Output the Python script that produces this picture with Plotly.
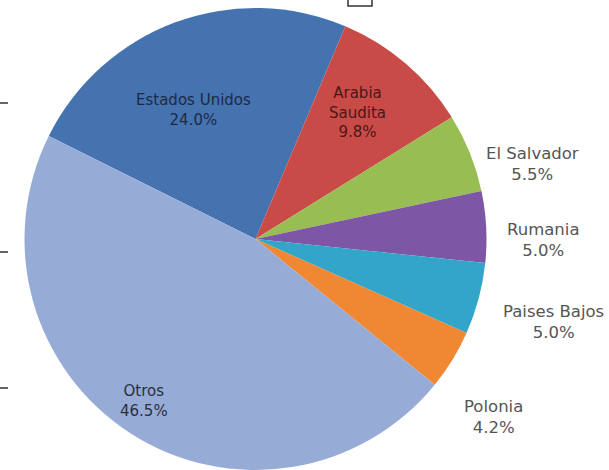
import plotly.graph_objects as go

W, H = 609, 470

# ---- data ----
countries = ["Estados Unidos", "Arabia Saudita", "El Salvador", "Rumania",
             "Paises Bajos", "Polonia", "Otros"]
shares = [24.0, 9.8, 5.5, 5.0, 5.0, 4.2, 46.5]
slice_colors = ["#4473b0", "#c84b47", "#98bd52", "#7d56a6",
                "#32a5c8", "#f08732", "#96abd6"]

# ---- label placement (pixel centres of the label blocks) ----
label_pos = {
    "Estados Unidos": (193, 110),
    "Arabia Saudita": (358, 112),
    "El Salvador": (532, 164),
    "Rumania": (543, 240),
    "Paises Bajos": (553, 322),
    "Polonia": (493, 417),
    "Otros": (144, 401),
}
inside = {"Estados Unidos": "#1e2a45", "Arabia Saudita": "#4a1816", "Otros": "#2a2f40"}


def px(x):
    return x / W


def py(y):
    return 1 - y / H


R = 231
CX = 255.5
fig = go.Figure(go.Pie(
    labels=countries,
    values=shares,
    sort=False,
    direction="clockwise",
    rotation=-63.5,
    marker=dict(colors=slice_colors, line=dict(width=0)),
    textinfo="none",
    hoverinfo="label+percent",
    showlegend=False,
    domain=dict(x=[px(CX - R), px(CX + R)], y=[0, 2 * R / H]),
))

annotations = []
for name, val in zip(countries, shares):
    text_name = name.replace("Arabia Saudita", "Arabia<br>Saudita")
    x, y = label_pos[name]
    col = inside.get(name, "#555555")
    annotations.append(dict(
        x=px(x), y=py(y), xref="paper", yref="paper",
        xanchor="center", yanchor="middle",
        text=f"{text_name}<br>{val:.1f}%",
        showarrow=False, align="center",
        font=dict(family="DejaVu Sans", size=15 if name in inside else 16.5, color=col),
    ))

shapes = []
for ty in (103, 252, 388):
    shapes.append(dict(type="line", xref="paper", yref="paper",
                       x0=0, x1=px(8), y0=py(ty), y1=py(ty),
                       line=dict(color="#333333", width=1.5)))
shapes.append(dict(type="rect", xref="paper", yref="paper",
                   x0=px(348), x1=px(372), y0=py(6), y1=py(-3),
                   line=dict(color="#333333", width=1.5)))

fig.update_layout(
    width=W, height=H,
    margin=dict(l=0, r=0, t=0, b=0),
    paper_bgcolor="white",
    plot_bgcolor="white",
    annotations=annotations,
    shapes=shapes,
)

fig.write_html(
    "out.html",
    config={"displayModeBar": False},
    post_script="document.body.style.margin='0';document.body.style.overflow='hidden';",
)
